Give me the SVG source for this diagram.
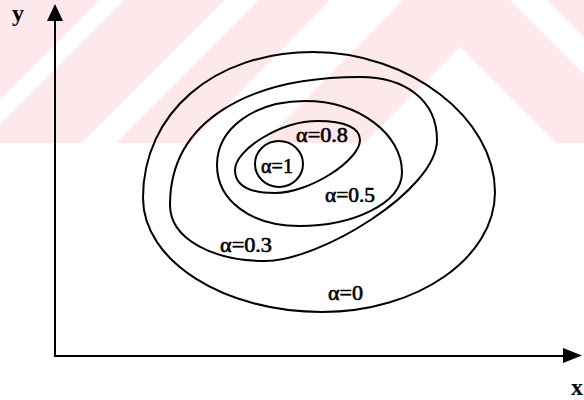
<svg xmlns="http://www.w3.org/2000/svg" width="584" height="400" viewBox="0 0 584 400">
  <style>
    .c { fill: none; stroke: #000; stroke-width: 2; }
    .lbl { font-family: "Liberation Serif", "Times New Roman", serif; font-size: 20px; fill: #000; stroke: #000; stroke-width: 0.6px; }
    .ax { font-family: "Liberation Serif", "Times New Roman", serif; font-size: 24px; font-weight: bold; fill: #000; }
    .wm { fill: #fde8ec; }
  </style>
  <rect width="584" height="400" fill="#fff"/>
  <g id="watermark">
    <rect class="wm" x="0" y="0" width="584" height="143"/>
    <polygon fill="#fff" points="0,100 0,124 124,0 100,0"/>
    <polygon fill="#fff" points="82,143 116,143 259,0 225,0"/>
    <polygon fill="#fff" points="190,143 263,143 403,0 330,0"/>
    <polygon fill="#fff" points="364,143 460,47 556,143"/>
    <polygon fill="#fff" points="510,0 547,0 584,37 584,74"/>
  </g>
  <g id="axes">
    <line x1="55" y1="357" x2="55" y2="18" stroke="#000" stroke-width="2"/>
    <polygon points="55,4 47,21 63,21" fill="#000"/>
    <line x1="54" y1="356" x2="566" y2="356" stroke="#000" stroke-width="2"/>
    <polygon points="582,355.5 563,348 563,363" fill="#000"/>
    <text class="ax" x="12" y="21">y</text>
    <text class="ax" x="571" y="395">x</text>
  </g>
  <g id="alpha0">
    <path class="c" d="M143,198 C143,113 214,52 313,52 C409,52 495,118 495,192 C495,258 417,312 322,312 C224,312 143,261 143,198 Z"/>
    <text class="lbl" x="328" y="300" textLength="35" lengthAdjust="spacingAndGlyphs">α=0</text>
  </g>
  <g id="alpha03">
    <path class="c" d="M170,205 C170,120 250,77 360,77 C405,77 437,100 437,140 C437,190 320,261 265,261 C215,261 170,240 170,205 Z"/>
    <text class="lbl" x="220" y="252" textLength="52" lengthAdjust="spacingAndGlyphs">α=0.3</text>
  </g>
  <g id="alpha05">
    <path class="c" d="M217,165 C217,128 255,101 305,101 C360,101 402,135 402,172 C402,205 350,226 300,226 C250,226 217,200 217,165 Z"/>
    <text class="lbl" x="325" y="202" textLength="50" lengthAdjust="spacingAndGlyphs">α=0.5</text>
  </g>
  <g id="alpha08">
    <path class="c" d="M235,170 C235,150 280,121 318,121 C345,121 360,128 360,140 C360,160 310,193 275,193 C248,193 235,185 235,170 Z"/>
    <text class="lbl" x="296" y="142" textLength="52" lengthAdjust="spacingAndGlyphs">α=0.8</text>
  </g>
  <g id="alpha1">
    <ellipse class="c" cx="279" cy="164" rx="24" ry="23"/>
    <text class="lbl" x="261" y="173" textLength="32" lengthAdjust="spacingAndGlyphs">α=1</text>
  </g>
</svg>
